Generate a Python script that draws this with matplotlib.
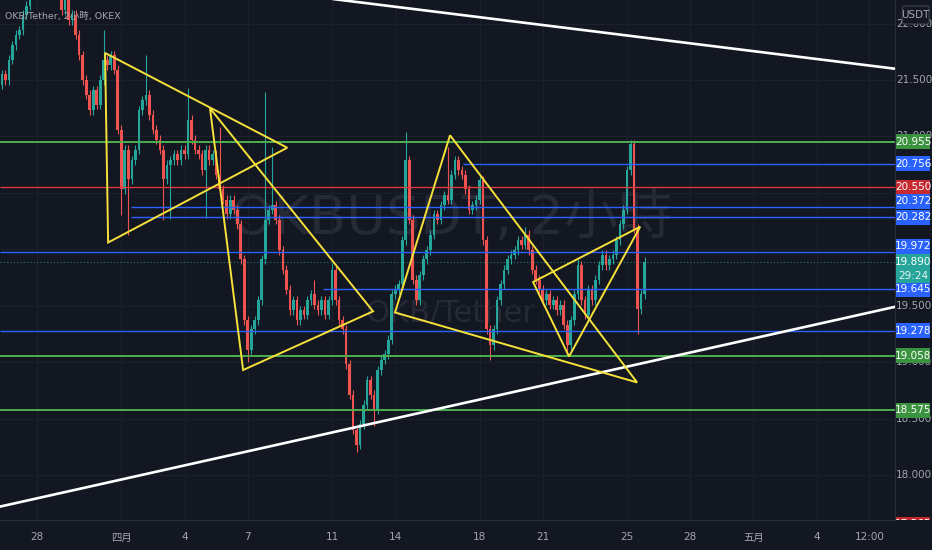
import numpy as np
import pandas as pd
import matplotlib
matplotlib.use("Agg")
import matplotlib.pyplot as plt
import matplotlib.dates as mdates
from matplotlib import font_manager as fm
from matplotlib.patches import Rectangle, FancyBboxPatch, Polygon

# ---------------- data ----------------
symbol_title = "OKB/Tether, 2小時, OKEX"
watermark_main = "OKBUSDT, 2小時"
watermark_sub = "OKB/Tether"
currency = "USDT"

last_bar_time = "2022-04-25 20:00"
bar_hours = 4
first_open = 21.40
closes = [
    21.46, 21.55, 21.50, 21.68, 21.81, 21.90, 21.94, 22.08, 22.16, 22.30,
    22.39, 22.43, 22.47, 22.43, 22.34, 22.39, 22.47, 22.39, 22.12, 22.21,
    22.03, 22.08, 21.90, 21.72, 21.50, 21.37, 21.23, 21.41, 21.28, 21.50,
    21.68, 21.63, 21.72, 21.59, 21.06, 20.53, 20.88, 20.62, 20.79, 20.88,
    21.23, 21.32, 21.37, 21.19, 21.06, 20.97, 20.88, 20.62, 20.75, 20.79,
    20.84, 20.79, 20.88, 20.84, 21.15, 20.97, 20.88, 20.84, 20.70, 20.88,
    20.79, 20.84, 20.66, 20.53, 20.44, 20.31, 20.44, 20.35, 20.22, 19.91,
    19.37, 19.11, 19.29, 19.37, 19.55, 19.91, 20.26, 20.35, 20.39, 20.26,
    19.99, 19.82, 19.64, 19.46, 19.55, 19.37, 19.46, 19.42, 19.55, 19.60,
    19.51, 19.46, 19.55, 19.42, 19.55, 19.82, 19.55, 19.37, 19.29, 18.98,
    18.71, 18.40, 18.27, 18.45, 18.62, 18.84, 18.71, 18.58, 18.93, 19.02,
    19.07, 19.20, 19.60, 19.64, 19.69, 20.08, 20.79, 20.26, 19.73, 19.55,
    19.77, 19.91, 19.99, 20.13, 20.31, 20.26, 20.39, 20.48, 20.44, 20.66,
    20.79, 20.70, 20.66, 20.53, 20.35, 20.39, 20.44, 20.61, 20.08, 19.29,
    19.15, 19.29, 19.55, 19.69, 19.82, 19.91, 19.95, 19.99, 20.08, 20.04,
    20.13, 19.99, 19.82, 19.73, 19.64, 19.55, 19.60, 19.51, 19.55, 19.46,
    19.51, 19.33, 19.15, 19.37, 19.60, 19.86, 19.55, 19.42, 19.64, 19.55,
    19.73, 19.86, 19.95, 19.86, 19.91, 19.95, 20.08, 20.22, 20.35, 20.70,
    20.93, 20.18, 19.47, 19.60, 19.89,
]
wick_highs = {30: 21.94, 42: 21.72, 54: 21.43, 63: 21.08, 76: 21.39, 78: 20.91,
              90: 19.73, 95: 19.88, 116: 21.04, 128: 20.91, 150: 20.20,
              165: 19.91, 180: 20.96}
wick_lows = {35: 20.30, 37: 20.13, 47: 20.26, 49: 20.27, 59: 20.28, 71: 19.00,
             102: 18.20, 107: 18.43, 140: 19.02, 162: 19.05, 182: 19.25}

tick_dates = ["2022-03-28", "2022-04-01", "2022-04-04", "2022-04-07", "2022-04-11",
              "2022-04-14", "2022-04-18", "2022-04-21", "2022-04-25", "2022-04-28",
              "2022-05-01", "2022-05-04", "2022-05-06 12:00"]
tick_labels = ["28", "四月", "4", "7", "11", "14", "18", "21", "25", "28", "五月", "4", "12:00"]
price_ticks = [22.0, 21.5, 21.0, 20.5, 20.0, 19.5, 19.0, 18.5, 18.0]
price_tick_labels_shown = [22.0, 21.5, 21.0, 19.5, 19.0, 18.5, 18.0]

level_prices = [20.955, 20.756, 20.550, 20.372, 20.282, 19.972, 19.645, 19.278, 19.058, 18.575]
level_kinds = ["green", "blue", "red", "blue", "blue", "blue", "blue", "blue", "green", "green"]
level_starts = [None, "2022-04-17 05:00", None, "2022-04-01 11:00", "2022-04-01 11:00",
                None, "2022-04-10 14:00", None, None, None]

current_price = 19.890
countdown = "29:24"
hidden_label_price = 17.565
hidden_label_text = "17.565"

trend_top = [("2022-04-11 09:00", 22.21), ("2022-05-07 17:15", 21.60)]
trend_bottom = [("2022-03-26 06:00", 17.72), ("2022-05-07 17:15", 19.49)]
triangles = [
    [("2022-03-31 05:30", 21.74), ("2022-03-31 09:00", 20.06), ("2022-04-08 21:00", 20.90)],
    [("2022-04-05 05:00", 21.25), ("2022-04-06 18:45", 18.93), ("2022-04-12 22:45", 19.45)],
    [("2022-04-16 14:25", 21.01), ("2022-04-13 23:45", 19.44), ("2022-04-25 11:30", 18.82)],
    [("2022-04-20 13:00", 19.71), ("2022-04-22 06:00", 19.05), ("2022-04-25 15:00", 20.20)],
]
view_start, view_end = "2022-03-26 05:50", "2022-05-07 17:15"
price_min, price_max = 17.601, 22.209

# ---------------- style ----------------
BG = "#131722"
GRID = "#1c202b"
TXT = "#a3a6af"
UP, DN = "#26a69a", "#ef5350"
LINE_COL = {"green": "#4caf50", "blue": "#2962ff", "red": "#e5393f"}
BOX_COL = {"green": "#3b923f", "blue": "#2962ff", "red": "#c62a30"}
LINE_W = {"green": 1.4, "blue": 1.0, "red": 0.95}
WICK = 0.04

names = {f.name for f in fm.fontManager.ttflist}
NARROW = "Liberation Sans Narrow" if "Liberation Sans Narrow" in names else "DejaVu Sans"
CJK = "Noto Sans CJK TC"
plt.rcParams["font.family"] = [NARROW, CJK, "DejaVu Sans"]

W, H = 932, 550
fig = plt.figure(figsize=(W / 100, H / 100), dpi=100)
fig.patch.set_facecolor(BG)
ax = fig.add_axes([0, 30 / H, 895 / W, 520 / H])
ax.set_facecolor(BG)

d2n = lambda s: mdates.date2num(pd.Timestamp(s).to_pydatetime())
x0, x1 = d2n(view_start), d2n(view_end)
ax.set_xlim(x0, x1)
ax.set_ylim(price_min, price_max)

# grid
ax.set_xticks([d2n(s) for s in tick_dates])
ax.set_xticklabels(tick_labels)
ax.set_yticks(price_ticks)
ax.grid(True, color=GRID, lw=0.8, zorder=0)
ax.tick_params(axis="x", length=0, pad=9, colors=TXT, labelsize=7.5)
ax.tick_params(axis="y", length=0, labelleft=False)
for s in ["top", "left"]:
    ax.spines[s].set_visible(False)
for s in ["bottom", "right"]:
    ax.spines[s].set_color("#2a2e39")

# watermark
ax.text(0.504, 0.578, watermark_main, transform=ax.transAxes, ha="center", va="center",
        fontsize=39, color="#262a37", zorder=1)
ax.text(0.503, 0.398, watermark_sub, transform=ax.transAxes, ha="center", va="center",
        fontsize=22, color="#262a37", zorder=1)

# candles
t = pd.date_range(end=last_bar_time, periods=len(closes), freq=f"{bar_hours}h")
x = mdates.date2num(t.to_pydatetime())
c = np.array(closes)
o = np.r_[first_open, c[:-1]]
top = np.maximum(o, c)
bot = np.minimum(o, c)
hi = top + WICK
lo = bot - WICK
for i, v in wick_highs.items():
    hi[i] = max(hi[i], v)
for i, v in wick_lows.items():
    lo[i] = min(lo[i], v)
cols = np.where(c >= o, UP, DN)
bw = bar_hours / 24 * 0.76
ax.vlines(x, lo, hi, colors=cols, lw=0.8, zorder=3)
ax.bar(x, np.maximum(top - bot, 0.012), bottom=bot, width=bw, color=cols, lw=0, zorder=3)

# horizontal levels
for p, k, s in zip(level_prices, level_kinds, level_starts):
    xs = x0 if s is None else d2n(s)
    ax.plot([xs, x1], [p, p], color=LINE_COL[k], lw=LINE_W[k], zorder=4, solid_capstyle="butt")
ax.plot([x0, x1], [current_price] * 2, color=UP, lw=0.8, ls=(0, (1, 2)), alpha=0.7, zorder=4)

# trend lines (extended)
def ext(pts):
    (a, pa), (b, pb) = [(d2n(s), v) for s, v in pts]
    m = (pb - pa) / (b - a)
    xa, xb = x0 - 5, x1 + 5
    return [xa, xb], [pa + m * (xa - a), pa + m * (xb - a)]

for tl in (trend_top, trend_bottom):
    xx, yy = ext(tl)
    ax.plot(xx, yy, color="white", lw=1.9, zorder=5, solid_capstyle="round")

for tri in triangles:
    pts = [(d2n(s), v) for s, v in tri]
    ax.add_patch(Polygon(pts, closed=True, fill=False, edgecolor="#f5e13a", lw=1.4, zorder=5,
                         joinstyle="miter"))

# title
fig.text(5 / W, 1 - 16 / H, symbol_title, color=TXT, fontsize=6.8, ha="left", va="center")

# right price axis
ax2 = fig.add_axes([895 / W, 30 / H, 37 / W, 520 / H])
ax2.set_xlim(0, 1)
ax2.set_ylim(price_min, price_max)
ax2.set_facecolor(BG)
ax2.axis("off")
pp = (price_max - price_min) / 520.0  # price per pixel

for p in price_tick_labels_shown:
    ax2.text(0.52, p, f"{p:.3f}", ha="center", va="center", color=TXT, fontsize=7.5, zorder=1)

shift_px = {3: 6, 5: 6}
bh = 15 * pp
for i, (p, k) in enumerate(zip(level_prices, level_kinds)):
    pc = p + shift_px.get(i, 0) * pp
    ax2.add_patch(Rectangle((0.03, pc - bh / 2), 0.92, bh, facecolor=BOX_COL[k], lw=0, zorder=3))
    ax2.text(0.49, pc, f"{p:.3f}", ha="center", va="center", color="white", fontsize=7.5, zorder=4)

# current price box with countdown
ytop = current_price + 7.5 * pp
ybot = current_price - 21.5 * pp
ax2.add_patch(Rectangle((0.03, ybot), 0.92, ytop - ybot, facecolor=UP, lw=0, zorder=3))
ax2.text(0.49, current_price, f"{current_price:.3f}", ha="center", va="center",
         color="white", fontsize=7.5, zorder=4)
ax2.text(0.49, current_price - 14 * pp, countdown, ha="center", va="center",
         color="#e6f4f2", fontsize=7.5, zorder=4)

# partially visible bottom label
ax2.add_patch(Rectangle((0.03, hidden_label_price - bh / 2), 0.92, bh, facecolor="#c62a30",
                        lw=0, zorder=3, clip_on=True))
ax2.text(0.49, hidden_label_price, hidden_label_text, ha="center", va="center", color="white",
         fontsize=7.5, zorder=4, clip_on=True)

# currency box
ax2.add_patch(FancyBboxPatch((0.2, price_max - 24 * pp), 0.72, 18 * pp,
                             boxstyle="round,pad=0,rounding_size=0.06", facecolor=BG,
                             edgecolor="#434651", lw=0.8, zorder=5, mutation_aspect=pp * 37))
ax2.text(0.56, price_max - 15 * pp, currency, ha="center", va="center", color=TXT,
         fontsize=7.5, zorder=6)

fig.savefig("out.png", dpi=100, facecolor=BG)
